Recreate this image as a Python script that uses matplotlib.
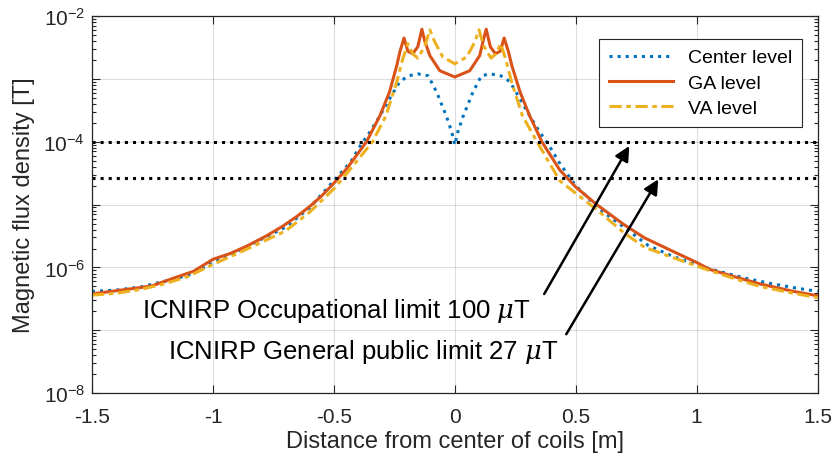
import matplotlib
matplotlib.use("Agg")
import matplotlib.pyplot as plt
import matplotlib.ticker as ticker
import numpy as np

plt.rcParams['font.family'] = ['Liberation Sans', 'DejaVu Sans']
plt.rcParams['mathtext.fontset'] = 'custom'
plt.rcParams['mathtext.rm'] = 'Liberation Sans'
plt.rcParams['mathtext.it'] = 'DejaVu Serif:italic'
plt.rcParams['axes.unicode_minus'] = False

# data (log10 of B in tesla)
x_center = [-1.5, -1.4, -1.3, -1.2, -1.1, -1.0, -0.9, -0.8, -0.7, -0.6, -0.5, -0.43, -0.39, -0.35,
            -0.31, -0.27, -0.227, -0.19, -0.153, -0.11, -0.075, -0.035, -0.013, 0.0, 0.013, 0.035,
            0.075, 0.11, 0.145, 0.19, 0.227, 0.27, 0.31, 0.35, 0.39, 0.43, 0.5, 0.6, 0.7, 0.8, 0.9,
            1.0, 1.1, 1.2, 1.3, 1.4, 1.5]
log_center = [-6.38, -6.36, -6.31, -6.22, -6.12, -5.92, -5.75, -5.55, -5.36, -5.05, -4.62, -4.32,
              -4.06, -3.84, -3.59, -3.32, -3.04, -2.95, -2.92, -2.95, -3.21, -3.59, -3.84, -4.05,
              -3.84, -3.59, -3.21, -2.95, -2.92, -2.95, -3.04, -3.32, -3.59, -3.84, -4.06, -4.32,
              -4.70, -5.08, -5.36, -5.65, -5.82, -5.96, -6.07, -6.17, -6.25, -6.32, -6.38]

x_ga = [-1.5, -1.4, -1.3, -1.25, -1.17, -1.08, -1.0, -0.93, -0.86, -0.78, -0.71, -0.65, -0.6, -0.55,
        -0.5, -0.447, -0.365, -0.31, -0.27, -0.24, -0.227, -0.21, -0.194, -0.174, -0.153, -0.136,
        -0.124, -0.103, -0.062, 0.0, 0.062, 0.103, 0.117, 0.13, 0.147, 0.168, 0.188, 0.204, 0.222,
        0.236, 0.27, 0.31, 0.36, 0.434, 0.5, 0.587, 0.7, 0.785, 0.9, 1.0, 1.054, 1.15, 1.26, 1.4, 1.5]
log_ga = [-6.42, -6.37, -6.32, -6.29, -6.18, -6.06, -5.87, -5.78, -5.66, -5.50, -5.34, -5.18, -5.03,
          -4.86, -4.66, -4.43, -4.0, -3.59, -3.21, -2.79, -2.57, -2.35, -2.56, -2.60, -2.49, -2.21,
          -2.40, -2.63, -2.87, -2.97, -2.87, -2.63, -2.40, -2.21, -2.49, -2.60, -2.56, -2.35, -2.57,
          -2.79, -3.21, -3.59, -4.0, -4.45, -4.72, -5.0, -5.32, -5.53, -5.74, -5.92, -6.03, -6.14,
          -6.26, -6.38, -6.45]

x_va = [-1.5, -1.4, -1.3, -1.2, -1.1, -1.0, -0.9, -0.8, -0.7, -0.6, -0.5, -0.42, -0.34, -0.285,
        -0.24, -0.215, -0.194, -0.174, -0.153, -0.124, -0.103, -0.083, -0.05, 0.0, 0.05, 0.083,
        0.1, 0.12, 0.15, 0.17, 0.19, 0.21, 0.235, 0.28, 0.34, 0.434, 0.5, 0.587, 0.7, 0.785, 0.9,
        1.054, 1.15, 1.26, 1.4, 1.5]
log_va = [-6.44, -6.41, -6.35, -6.26, -6.14, -5.95, -5.78, -5.60, -5.42, -5.12, -4.75, -4.38, -4.0,
          -3.59, -3.05, -2.68, -2.44, -2.60, -2.67, -2.48, -2.22, -2.41, -2.65, -2.76, -2.65, -2.41,
          -2.22, -2.48, -2.67, -2.60, -2.44, -2.68, -3.05, -3.59, -4.0, -4.62, -4.82, -5.08, -5.45,
          -5.68, -5.84, -6.05, -6.17, -6.30, -6.41, -6.48]

occupational_limit = 100e-6
public_limit = 27e-6

fig = plt.figure(figsize=(8.36, 4.6), dpi=100)
ax = fig.add_axes([0.110, 0.143, 0.868, 0.820])

ax.plot(x_center, 10.0 ** np.array(log_center), ':', color='#0072BD', lw=2.2, label='Center level')
ax.plot(x_ga, 10.0 ** np.array(log_ga), '-', color='#D95319', lw=2.2, label='GA level')
ax.plot(x_va, 10.0 ** np.array(log_va), color='#EDB120', lw=2.2,
        linestyle=(0, (4, 1.5, 1.5, 1.5)), label='VA level')

ax.axhline(occupational_limit, color='k', ls=':', lw=2.2)
ax.axhline(public_limit, color='k', ls=':', lw=2.2)

ax.set_yscale('log')
ax.set_xlim(-1.5, 1.5)
ax.set_ylim(1e-8, 1e-2)

# ticks and grid, matlab style
ax.set_xticks(np.arange(-1.5, 1.51, 0.5))
ax.xaxis.set_major_formatter(ticker.FuncFormatter(lambda v, p: f"{v:g}"))
ax.yaxis.set_major_locator(ticker.FixedLocator(10.0 ** np.arange(-8, -1)))
ax.yaxis.set_minor_locator(ticker.LogLocator(base=10, subs=np.arange(2, 10), numticks=20))
ax.yaxis.set_minor_formatter(ticker.NullFormatter())
def yfmt(v, p):
    e = int(round(np.log10(v)))
    if e % 2 == 0:
        return r"$\mathregular{10^{%d}}$" % e
    return ""
ax.yaxis.set_major_formatter(ticker.FuncFormatter(yfmt))
ax.tick_params(which='both', direction='in', top=True, right=True, colors='#262626',
               labelcolor='#262626', labelsize=15, width=0.8)
ax.tick_params(which='major', length=6)
ax.tick_params(which='minor', length=3)
ax.tick_params(axis='x', pad=10)
ax.tick_params(axis='y', pad=5)
ax.grid(True, which='major', color='#262626', alpha=0.15, lw=0.8)
for s in ax.spines.values():
    s.set_color('#262626')
    s.set_linewidth(0.9)

ax.set_xlabel('Distance from center of coils [m]', fontsize=17, color='#262626', labelpad=3)
ax.set_ylabel('Magnetic flux density [T]', fontsize=17, color='#262626', labelpad=6)

leg = ax.legend(loc='upper right', bbox_to_anchor=(0.979, 0.939), borderaxespad=0, fontsize=14,
                fancybox=False, framealpha=1, edgecolor='#262626', handlelength=3.3,
                borderpad=0.5, labelspacing=0.4)
leg.get_frame().set_linewidth(0.8)

# annotations
ax.text(-0.488, 10 ** -6.68, r'ICNIRP Occupational limit 100 $\mu$T', fontsize=18.5,
        ha='center', va='center')
ax.text(-0.378, 10 ** -7.33, r'ICNIRP General public limit 27 $\mu$T', fontsize=18.5,
        ha='center', va='center')
ax.annotate('', xy=(0.727, 10 ** -4.03), xytext=(0.364, 10 ** -6.46),
            arrowprops=dict(arrowstyle='-|>', color='k', lw=1.8, mutation_scale=22))
ax.annotate('', xy=(0.847, 10 ** -4.56), xytext=(0.455, 10 ** -7.10),
            arrowprops=dict(arrowstyle='-|>', color='k', lw=1.8, mutation_scale=22))

fig.savefig('out.png', dpi=100)
